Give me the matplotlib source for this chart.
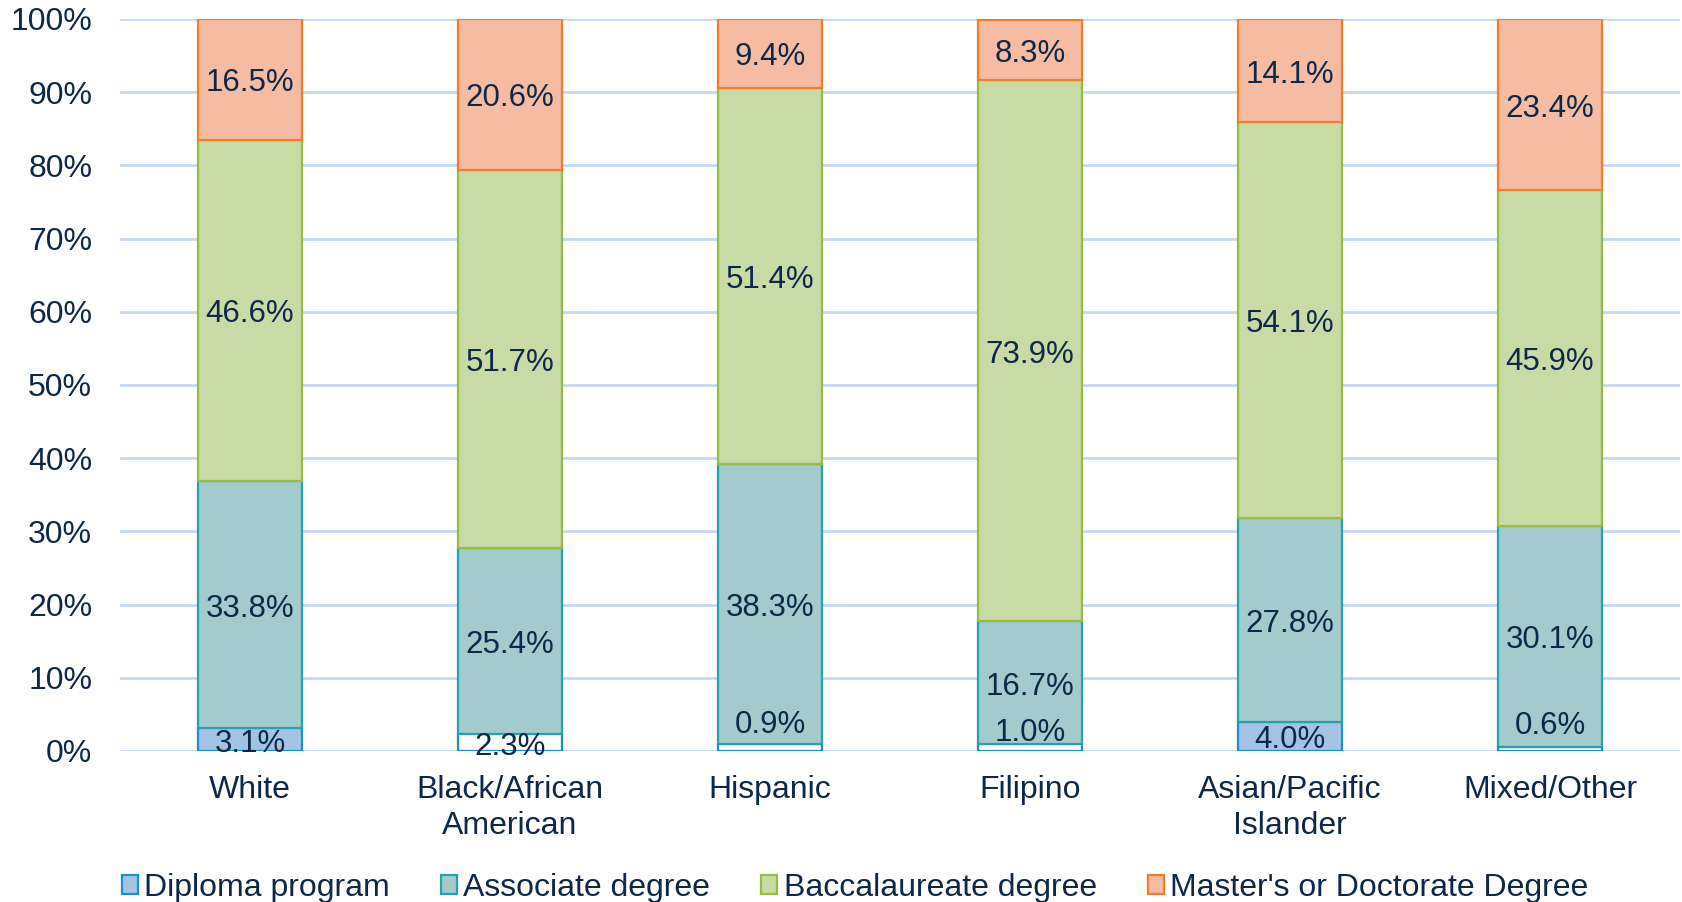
import matplotlib
matplotlib.use("Agg")
import matplotlib.pyplot as plt
import numpy as np

categories = ["White", "Black/African\nAmerican", "Hispanic", "Filipino", "Asian/Pacific\nIslander", "Mixed/Other"]
series_names = ["Diploma program", "Associate degree", "Baccalaureate degree", "Master's or Doctorate Degree"]
diploma = [3.1, 2.3, 0.9, 1.0, 4.0, 0.6]
associate = [33.8, 25.4, 38.3, 16.7, 27.8, 30.1]
baccalaureate = [46.6, 51.7, 51.4, 73.9, 54.1, 45.9]
masters = [16.5, 20.6, 9.4, 8.3, 14.1, 23.4]
yticks = [0, 10, 20, 30, 40, 50, 60, 70, 80, 90, 100]

fills = ["#A3C3E5", "#A3CACD", "#C8DAA6", "#F6BBA3"]
edges = ["#1C8FD2", "#26A2AE", "#98BD45", "#EF7F2B"]
diploma_fill_override = {1: "white", 2: "white", 3: "white", 5: "white"}
small_label_offset = {2: 27, 3: 18, 5: 27}  # pixels upward for tiny segments
txt = "#0D2849"
fs = 23

plt.rcParams['font.family'] = ['Liberation Sans', 'DejaVu Sans']
fig = plt.figure(figsize=(16.82, 9.02), dpi=100)
ax = fig.add_axes([120/1682, 1-751/902, 1560/1682, 732/902])

x = np.arange(len(categories))
w = 0.397
data = [diploma, associate, baccalaureate, masters]
bottom = np.zeros(len(categories))
handles = []
for si, vals in enumerate(data):
    vals = np.array(vals)
    fc = [fills[si]] * len(categories)
    if si == 0:
        for k, c in diploma_fill_override.items():
            fc[k] = c
    ax.bar(x, vals, w, bottom=bottom, color=fc, edgecolor=edges[si], linewidth=1.6, zorder=3)
    handles.append(plt.Rectangle((0, 0), 1, 1, facecolor=fills[si], edgecolor=edges[si], linewidth=1.6))
    for i, v in enumerate(vals):
        cy = bottom[i] + v / 2
        off = small_label_offset.get(i, 0) if si == 0 else 0
        ax.annotate(f"{v:.1f}%", (x[i], cy), xytext=(0, (off - 4) * 0.72), textcoords="offset points",
                    ha="center", va="center", fontsize=22.5, color=txt, zorder=5)
    bottom += vals

ax.set_xlim(-0.5, len(categories) - 0.5)
ax.set_ylim(0, 100)
ax.set_yticks(yticks)
ax.set_yticklabels([f"{t}%" for t in yticks])
ax.set_xticks(x)
ax.set_xticklabels(categories, linespacing=1.28)
ax.tick_params(axis='both', length=0, labelsize=fs, labelcolor=txt)
ax.tick_params(axis='y', pad=20)
ax.tick_params(axis='x', pad=17)
ax.grid(axis='y', color="#C6D9F2", linewidth=2, zorder=0)
for s in ax.spines.values():
    s.set_visible(False)

fig.legend(handles, series_names, loc="center", bbox_to_anchor=(855/1682, 1-888/902), ncol=4,
           frameon=False, fontsize=fs, labelcolor=txt, handlelength=0.5, handleheight=0.55,
           handletextpad=0.2, columnspacing=1.6)

fig.savefig("out.png", dpi=100)
